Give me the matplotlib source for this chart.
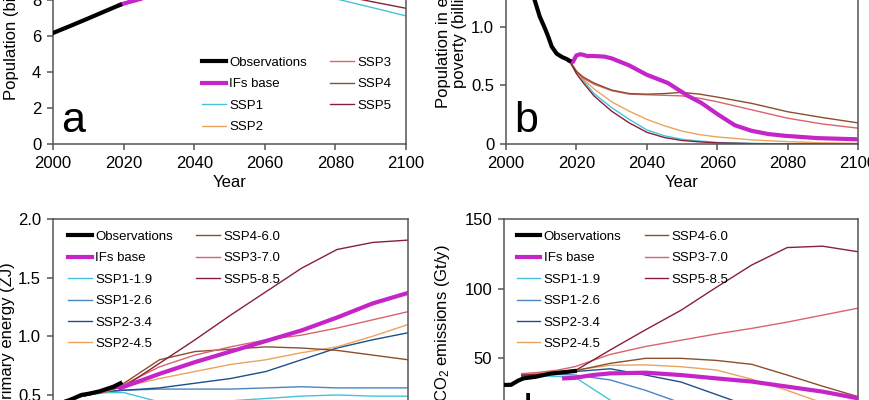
import matplotlib
matplotlib.use("Agg")
import matplotlib.pyplot as plt
from matplotlib.lines import Line2D

plt.rcParams['font.family'] = ['Liberation Sans', 'DejaVu Sans']
plt.rcParams['mathtext.fontset'] = 'custom'
plt.rcParams['mathtext.rm'] = 'Liberation Sans'
plt.rcParams['mathtext.default'] = 'rm'

# ---------------- colours ----------------
C_OBS = '#000000'
C_IFS = '#c424c8'
C_SSP1 = '#45c3d8'
C_SSP2 = '#eaa45e'
C_SSP3 = '#d9636e'
C_SSP4 = '#8c4f2c'
C_SSP5 = '#86203c'
C_126 = '#4a86c0'
C_234 = '#1f4f8a'

# ---------------- panel a: population (billions) ----------------
a_obs_years = [2000, 2005, 2010, 2015, 2019]
a_obs = [6.15, 6.55, 6.96, 7.38, 7.71]
a_years = [2019, 2020, 2025, 2030, 2040, 2050, 2060, 2070, 2080, 2090, 2100]
a_ifs = [7.71, 7.78, 8.05, 8.45, 8.95, 9.3, 9.5, 9.6, 9.6, 9.55, 9.45]
s_years = [2020, 2030, 2040, 2050, 2060, 2070, 2080, 2090, 2100]
a_ssp1 = [7.74, 8.3, 8.6, 8.7, 8.6, 8.35, 8.05, 7.58, 7.1]
a_ssp2 = [7.78, 8.4, 8.9, 9.2, 9.4, 9.4, 9.3, 9.2, 9.0]
a_ssp3 = [7.8, 8.6, 9.3, 9.9, 10.5, 11.1, 11.6, 12.1, 12.6]
a_ssp4 = [7.78, 8.5, 9.0, 9.3, 9.5, 9.5, 9.4, 9.2, 9.0]
a_ssp5 = [7.75, 8.3, 8.6, 8.75, 8.75, 8.6, 8.3, 7.9, 7.52]

# ---------------- panel b: extreme poverty (billions) ----------------
b_obs_years = [2000, 2002, 2004, 2006, 2008, 2009.6, 2011, 2012, 2013, 2014.4, 2016, 2017.2, 2018]
b_obs = [1.75, 1.62, 1.47, 1.34, 1.24, 1.085, 0.99, 0.915, 0.83, 0.77, 0.74, 0.725, 0.71]
b_ifs_years = [2018, 2019, 2020, 2021, 2022, 2023, 2025, 2028, 2030, 2035, 2040, 2046, 2051.7,
               2055.5, 2060.3, 2065, 2069.7, 2074.5, 2079.2, 2088.6, 2100]
b_ifs = [0.71, 0.70, 0.755, 0.765, 0.76, 0.75, 0.75, 0.745, 0.73, 0.67, 0.59, 0.52, 0.41,
         0.35, 0.25, 0.16, 0.113, 0.085, 0.07, 0.05, 0.04]
b_years = [2018, 2020, 2022, 2025, 2030, 2035, 2040, 2045, 2050, 2055, 2060, 2070, 2080, 2090, 2100]
b_ssp1 = [0.71, 0.62, 0.54, 0.43, 0.31, 0.21, 0.12, 0.07, 0.04, 0.025, 0.013, 0.005, 0.002, 0.001, 0.0]
b_ssp2 = [0.71, 0.62, 0.55, 0.47, 0.36, 0.28, 0.21, 0.155, 0.11, 0.08, 0.06, 0.035, 0.02, 0.01, 0.005]
b_ssp3 = [0.71, 0.62, 0.56, 0.51, 0.455, 0.425, 0.42, 0.415, 0.41, 0.39, 0.36, 0.29, 0.22, 0.17, 0.135]
b_ssp4 = [0.71, 0.62, 0.57, 0.52, 0.46, 0.43, 0.425, 0.43, 0.44, 0.425, 0.40, 0.345, 0.275, 0.225, 0.18]
b_ssp5 = [0.71, 0.60, 0.52, 0.41, 0.28, 0.18, 0.10, 0.055, 0.03, 0.018, 0.01, 0.003, 0.001, 0.0, 0.0]

# ---------------- panel c: primary energy (ZJ) ----------------
c_obs_years = [2000, 2005, 2008, 2010, 2013, 2015, 2017, 2019]
c_obs = [0.41, 0.46, 0.50, 0.51, 0.53, 0.55, 0.57, 0.60]
c_ifs_years = [2018, 2019, 2020, 2030, 2040, 2050, 2060, 2070, 2080, 2090, 2100]
c_ifs = [0.58, 0.555, 0.57, 0.68, 0.78, 0.87, 0.96, 1.05, 1.16, 1.28, 1.37]
c_years = [2005, 2010, 2015, 2020, 2030, 2040, 2050, 2060, 2070, 2080, 2090, 2100]
c_119 = [0.47, 0.50, 0.52, 0.52, 0.44, 0.43, 0.45, 0.47, 0.49, 0.50, 0.49, 0.49]
c_126 = [0.47, 0.50, 0.53, 0.54, 0.55, 0.55, 0.55, 0.56, 0.57, 0.56, 0.56, 0.56]
c_234 = [0.47, 0.50, 0.53, 0.54, 0.56, 0.60, 0.64, 0.70, 0.80, 0.90, 0.97, 1.03]
c_245 = [0.47, 0.50, 0.53, 0.57, 0.64, 0.70, 0.76, 0.80, 0.86, 0.91, 1.00, 1.10]
c_460 = [0.47, 0.50, 0.53, 0.60, 0.80, 0.87, 0.89, 0.91, 0.90, 0.88, 0.84, 0.80]
c_370 = [0.47, 0.50, 0.53, 0.59, 0.74, 0.84, 0.91, 0.97, 1.01, 1.07, 1.14, 1.21]
c_585 = [0.47, 0.50, 0.54, 0.57, 0.77, 0.97, 1.18, 1.38, 1.58, 1.74, 1.80, 1.82]

# ---------------- panel d: CO2 emissions (Gt/y) ----------------
d_obs_years = [2000, 2002, 2004, 2005.5, 2009, 2013, 2016, 2020]
d_obs = [30.9, 31.0, 34.0, 35.6, 36.8, 39.0, 39.8, 40.9]
d_ifs_years = [2017, 2020, 2025, 2030, 2040, 2050, 2060, 2070, 2080, 2090, 2100]
d_ifs = [35.6, 36.0, 38.0, 39.2, 39.7, 38.0, 35.6, 33.3, 29.7, 26.1, 21.3]
d_years = [2005, 2010, 2015, 2020, 2030, 2040, 2050, 2060, 2070, 2080, 2090, 2100]
d_119 = [37.5, 37.5, 37.0, 36.5, 20.0, 8.0, 1.0, -6.0, -11.0, -13.9, -14.0, -13.0]
d_126 = [37.5, 38.0, 38.5, 38.0, 34.5, 27.0, 18.0, 10.0, 4.0, -3.0, -8.0, -9.0]
d_234 = [37.5, 38.5, 39.5, 40.5, 42.5, 38.0, 33.0, 24.0, 15.0, 9.0, 5.0, 2.0]
d_245 = [38.5, 39.5, 40.5, 41.6, 45.0, 45.3, 44.0, 41.6, 35.0, 27.0, 18.0, 10.0]
d_460 = [37.5, 38.5, 39.5, 41.0, 46.4, 50.0, 50.0, 48.5, 45.7, 38.0, 30.0, 22.5]
d_370 = [39.0, 40.0, 41.5, 44.0, 52.8, 58.5, 63.0, 67.5, 71.5, 76.0, 81.0, 86.0]
d_585 = [38.0, 38.5, 39.5, 41.0, 56.0, 70.5, 84.5, 101.0, 117.0, 129.5, 130.5, 126.5]

W, H = 870, 400
fig = plt.figure(figsize=(W / 100, H / 100), dpi=100)


def rect(left, right, bottom_px, height_px):
    return [left / W, (H - bottom_px) / H, (right - left) / W, height_px / H]


ax_a = fig.add_axes(rect(53, 406, 144, 234.6))
ax_b = fig.add_axes(rect(506, 858, 144, 234.6))
ax_c = fig.add_axes(rect(53, 408, 453.6, 234.6))
ax_d = fig.add_axes(rect(504, 858, 428, 209))

SPINE = '#555555'
FS = 12
for ax in (ax_a, ax_b, ax_c, ax_d):
    for s in ax.spines.values():
        s.set_color(SPINE)
        s.set_linewidth(1.1)
    ax.tick_params(direction='out', length=4.5, width=1.1, color=SPINE,
                   labelsize=FS, pad=4)
    ax.set_xlim(2000, 2100)
    ax.set_xticks([2000, 2020, 2040, 2060, 2080, 2100])
    ax.set_xlabel('Year', fontsize=FS, labelpad=3)

LW_T = 3.0
LW = 1.0

# panel a
ax_a.plot(a_obs_years, a_obs, color=C_OBS, lw=LW_T, label='Observations', zorder=5)
ax_a.plot(a_years, a_ifs, color=C_IFS, lw=LW_T, label='IFs base', zorder=4)
ax_a.plot(s_years, a_ssp1, color=C_SSP1, lw=LW, label='SSP1')
ax_a.plot(s_years, a_ssp2, color=C_SSP2, lw=LW, label='SSP2')
ax_a.plot(s_years, a_ssp3, color=C_SSP3, lw=LW, label='SSP3')
ax_a.plot(s_years, a_ssp4, color=C_SSP4, lw=LW, label='SSP4')
ax_a.plot(s_years, a_ssp5, color=C_SSP5, lw=LW, label='SSP5')
ax_a.set_ylim(0, 13)
ax_a.set_yticks([0, 2, 4, 6, 8, 10, 12])
ax_a.set_ylabel('Population (billions)', fontsize=FS)
ax_a.yaxis.set_label_coords((19 - 53) / 353, 0.5)

# panel b
ax_b.plot(b_obs_years, b_obs, color=C_OBS, lw=LW_T, zorder=5)
ax_b.plot(b_ifs_years, b_ifs, color=C_IFS, lw=LW_T, zorder=4)
ax_b.plot(b_years, b_ssp1, color=C_SSP1, lw=LW)
ax_b.plot(b_years, b_ssp2, color=C_SSP2, lw=LW)
ax_b.plot(b_years, b_ssp3, color=C_SSP3, lw=LW)
ax_b.plot(b_years, b_ssp4, color=C_SSP4, lw=LW)
ax_b.plot(b_years, b_ssp5, color=C_SSP5, lw=LW)
ax_b.set_ylim(0, 2.0)
ax_b.set_yticks([0, 0.5, 1.0, 1.5, 2.0])
ax_b.set_yticklabels(['0', '0.5', '1.0', '1.5', '2.0'])
ax_b.set_ylabel('Population in extreme\npoverty (billions)', fontsize=FS, linespacing=1.1)
ax_b.yaxis.set_label_coords((467 - 506) / 352, 0.5)

# panel c
ax_c.plot(c_obs_years, c_obs, color=C_OBS, lw=LW_T, label='Observations', zorder=5)
ax_c.plot(c_ifs_years, c_ifs, color=C_IFS, lw=LW_T, label='IFs base', zorder=4)
ax_c.plot(c_years, c_119, color=C_SSP1, lw=LW, label='SSP1-1.9')
ax_c.plot(c_years, c_126, color=C_126, lw=LW, label='SSP1-2.6')
ax_c.plot(c_years, c_234, color=C_234, lw=LW, label='SSP2-3.4')
ax_c.plot(c_years, c_245, color=C_SSP2, lw=LW, label='SSP2-4.5')
ax_c.plot(c_years, c_460, color=C_SSP4, lw=LW, label='SSP4-6.0')
ax_c.plot(c_years, c_370, color=C_SSP3, lw=LW, label='SSP3-7.0')
ax_c.plot(c_years, c_585, color=C_SSP5, lw=LW, label='SSP5-8.5')
ax_c.set_ylim(0, 2.0)
ax_c.set_yticks([0, 0.5, 1.0, 1.5, 2.0])
ax_c.set_yticklabels(['0', '0.5', '1.0', '1.5', '2.0'])
ax_c.set_ylabel('Primary energy (ZJ)', fontsize=FS)
ax_c.yaxis.set_label_coords((15 - 53) / 355, 0.5)

# panel d
ax_d.plot(d_obs_years, d_obs, color=C_OBS, lw=LW_T, label='Observations', zorder=5)
ax_d.plot(d_ifs_years, d_ifs, color=C_IFS, lw=LW_T, label='IFs base', zorder=4)
ax_d.plot(d_years, d_119, color=C_SSP1, lw=LW, label='SSP1-1.9')
ax_d.plot(d_years, d_126, color=C_126, lw=LW, label='SSP1-2.6')
ax_d.plot(d_years, d_234, color=C_234, lw=LW, label='SSP2-3.4')
ax_d.plot(d_years, d_245, color=C_SSP2, lw=LW, label='SSP2-4.5')
ax_d.plot(d_years, d_460, color=C_SSP4, lw=LW, label='SSP4-6.0')
ax_d.plot(d_years, d_370, color=C_SSP3, lw=LW, label='SSP3-7.0')
ax_d.plot(d_years, d_585, color=C_SSP5, lw=LW, label='SSP5-8.5')
ax_d.set_ylim(0, 150)
ax_d.set_yticks([0, 50, 100, 150])
ax_d.set_ylabel('CO$_2$ emissions (Gt/y)', fontsize=FS)
ax_d.yaxis.set_label_coords((452 - 504) / 354, 0.5)

leg_kw = dict(loc='upper left', bbox_transform=fig.transFigure, frameon=False,
              fontsize=9.5, handlelength=1.8, handletextpad=0.25, columnspacing=1.75,
              labelspacing=0.7, borderpad=0, borderaxespad=0, ncol=2)

h, l = ax_a.get_legend_handles_labels()
ax_a.legend(h, l, bbox_to_anchor=(202 / W, 1 - 56.5 / H), **leg_kw)

blank = Line2D([], [], color='none')
for ax, x0 in ((ax_c, 68), (ax_d, 516.7)):
    h, l = ax.get_legend_handles_labels()
    h = h + [blank] * 3
    l = l + [''] * 3
    ax.legend(h, l, bbox_to_anchor=(x0 / W, 1 - 230.5 / H), **leg_kw)

# panel letters
for txt, xp, yp in (('a', 61, 132), ('b', 514, 132), ('c', 61, 441), ('d', 508, 424)):
    fig.text(xp / W, 1 - yp / H, txt, fontsize=31, va='baseline', ha='left')

fig.savefig('out.png', dpi=100)
